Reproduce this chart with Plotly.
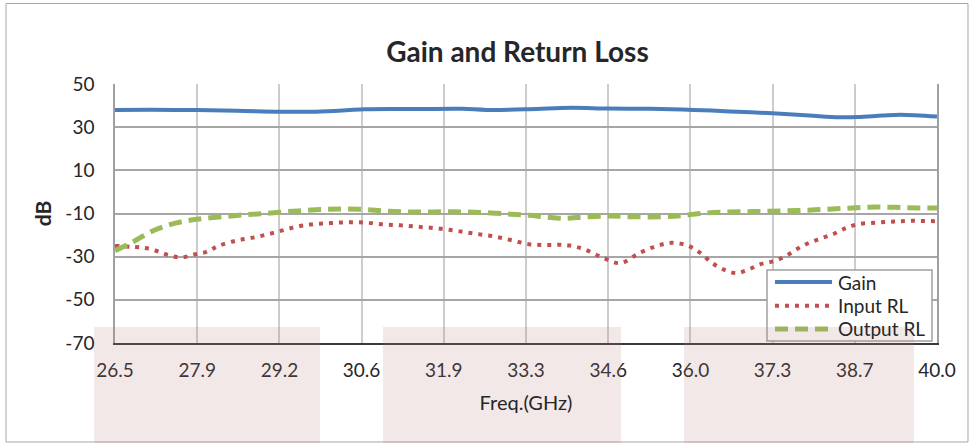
import plotly.graph_objects as go

# ---------------- data ----------------
x_tick_vals = [26.5, 27.85, 29.2, 30.55, 31.9, 33.25, 34.6, 35.95, 37.3, 38.65, 40.0]
x_tick_text = ["26.5", "27.9", "29.2", "30.6", "31.9", "33.3", "34.6", "36.0", "37.3", "38.7", "40.0"]
y_tick_vals = [-70, -50, -30, -10, 10, 30, 50]
y_tick_text = ["-70", "-50", "-30", "-10", "10", "30", "50"]

series_names = ["Gain", "Input RL", "Output RL"]

gain_freq = [26.5, 27.5, 28.5, 29.2, 29.8, 30.3, 30.6, 31.5, 32.2, 32.6, 33.3, 34.0,
             34.6, 35.3, 36.0, 36.6, 37.3, 37.9, 38.4, 38.7, 39.1, 39.4, 40.0]
gain_db = [38.0, 38.0, 37.6, 37.2, 37.2, 37.8, 38.3, 38.4, 38.5, 38.0, 38.3, 39.0,
           38.6, 38.5, 38.0, 37.3, 36.4, 35.4, 34.6, 34.7, 35.4, 35.8, 34.9]

in_freq = [26.5, 26.8, 27.0, 27.2, 27.4, 27.6, 27.8, 28.0, 28.2, 28.5, 28.8, 29.1, 29.4,
           29.7, 30.0, 30.3, 30.6, 30.9, 31.2, 31.5, 31.8, 32.1, 32.4, 32.7, 33.0, 33.3,
           33.6, 33.9, 34.2, 34.5, 34.8, 35.1, 35.4, 35.65, 35.9, 36.1, 36.3, 36.5, 36.7,
           36.9, 37.1, 37.3, 37.5, 37.7, 37.9, 38.1, 38.3, 38.5, 38.7, 39.0, 39.3, 39.6, 40.0]
in_db = [-25.0, -25.5, -26.0, -27.5, -29.5, -30.3, -29.0, -27.8, -25.0, -22.5, -21.0, -19.0, -16.7,
         -15.1, -14.5, -14.1, -14.2, -15.0, -15.5, -16.2, -16.9, -18.0, -19.3, -20.5, -22.3, -24.2,
         -24.6, -24.6, -26.5, -30.3, -33.0, -28.5, -25.0, -23.6, -24.8, -28.0, -32.8, -36.0, -37.6,
         -36.0, -33.5, -32.2, -30.0, -26.5, -23.6, -21.5, -19.5, -16.8, -15.0, -14.2, -13.7, -13.4, -13.6]

out_freq = [26.5, 26.8, 27.1, 27.4, 27.7, 28.0, 28.5, 29.0, 29.5, 30.0, 30.5, 31.0, 31.5,
            32.0, 32.5, 33.0, 33.3, 33.6, 33.9, 34.2, 34.6, 35.0, 35.5, 35.8, 36.1, 36.5,
            37.0, 37.5, 38.0, 38.5, 39.0, 39.5, 40.0]
out_db = [-27.2, -23.1, -18.3, -15.2, -13.3, -12.2, -10.9, -9.9, -8.8, -8.0, -8.0, -9.0, -9.3,
          -9.2, -9.5, -10.3, -10.8, -11.7, -12.2, -11.6, -11.2, -11.5, -11.5, -11.0, -10.0, -9.3,
          -9.1, -8.8, -8.3, -7.6, -7.0, -7.3, -7.5]

FONT = "Lato"
TXT = "#262626"
styles = [
    dict(color="#4a7ebb", width=4),
    dict(color="#c0504d", width=4, dash="4px,6px"),
    dict(color="#9bbb59", width=5, dash="13px,7px"),
]

fig = go.Figure()
for name, xs, ys, st in zip(series_names, [gain_freq, in_freq, out_freq],
                            [gain_db, in_db, out_db], styles):
    fig.add_trace(go.Scatter(x=xs, y=ys, name=name, mode="lines", showlegend=False,
                             line=dict(shape="spline", **st)))

shapes = [
    # outer chart frame
    dict(type="rect", xref="paper", yref="paper", x0=-0.1326, x1=1.0377, y0=-0.3822, y1=1.3108,
         line=dict(color="#a6a6a6", width=1), fillcolor="rgba(0,0,0,0)", layer="below"),
    # legend box
    dict(type="rect", xref="paper", yref="paper", x0=0.7932, x1=0.9939, y0=0.0077, y1=0.2819,
         line=dict(color="#a0a0a0", width=1.5), fillcolor="white", layer="above"),
]
annotations = []
legend_rows = [0.2355, 0.144, 0.0541]
for name, st, yr in zip(series_names, styles, legend_rows):
    shapes.append(dict(type="line", xref="paper", yref="paper", x0=0.8029, x1=0.8723, y0=yr, y1=yr,
                       line=st, layer="above"))
    annotations.append(dict(text=name, xref="paper", yref="paper", x=0.8777, y=yr,
                            xanchor="left", yanchor="middle", showarrow=False,
                            font=dict(family=FONT, size=19, color=TXT)))
# pale pink overlay blocks
for x0, x1 in [(-0.0255, 0.2494), (0.326, 0.6156), (0.6922, 0.972)]:
    shapes.append(dict(type="rect", xref="paper", yref="paper", x0=x0, x1=x1, y0=-0.386, y1=0.0618,
                       line=dict(width=0), fillcolor="rgba(190,125,125,0.18)", layer="above"))

fig.update_layout(
    width=969, height=443,
    margin=dict(l=115, r=32, t=84, b=100, autoexpand=False),
    paper_bgcolor="white", plot_bgcolor="rgba(0,0,0,0)",
    font=dict(family=FONT, size=18, color=TXT),
    title=dict(text="<b>Gain and Return Loss</b>", x=0.534, xref="container", xanchor="center",
               y=0.883, yref="container", yanchor="middle",
               font=dict(family=FONT, size=28, color=TXT)),
    showlegend=False,
    shapes=shapes,
    annotations=annotations,
)

fig.update_xaxes(range=[26.5, 40.0], tickvals=x_tick_vals, ticktext=x_tick_text,
                 showgrid=True, gridcolor="#cccccc", gridwidth=1.5,
                 showline=True, linecolor="#3a3a3a", linewidth=2, zeroline=False,
                 ticks="", ticklabelstandoff=9, automargin=False,
                 tickfont=dict(family=FONT, size=19, color=TXT),
                 title=dict(text="Freq.(GHz)", standoff=16, font=dict(family=FONT, size=20, color=TXT)))
fig.update_yaxes(range=[-70, 50], tickvals=y_tick_vals, ticktext=y_tick_text,
                 showgrid=True, gridcolor="#a6a6a6", gridwidth=1.5,
                 showline=True, linecolor="#a0a0a0", linewidth=1.5, mirror=True, zeroline=False,
                 ticks="", ticklabelstandoff=15, automargin=False,
                 tickfont=dict(family=FONT, size=19, color=TXT),
                 title=dict(text="<b>dB</b>", standoff=8, font=dict(family=FONT, size=21, color=TXT)))

fig.write_html("out.html", post_script="document.body.style.margin='0';",
               config={"displayModeBar": False})
